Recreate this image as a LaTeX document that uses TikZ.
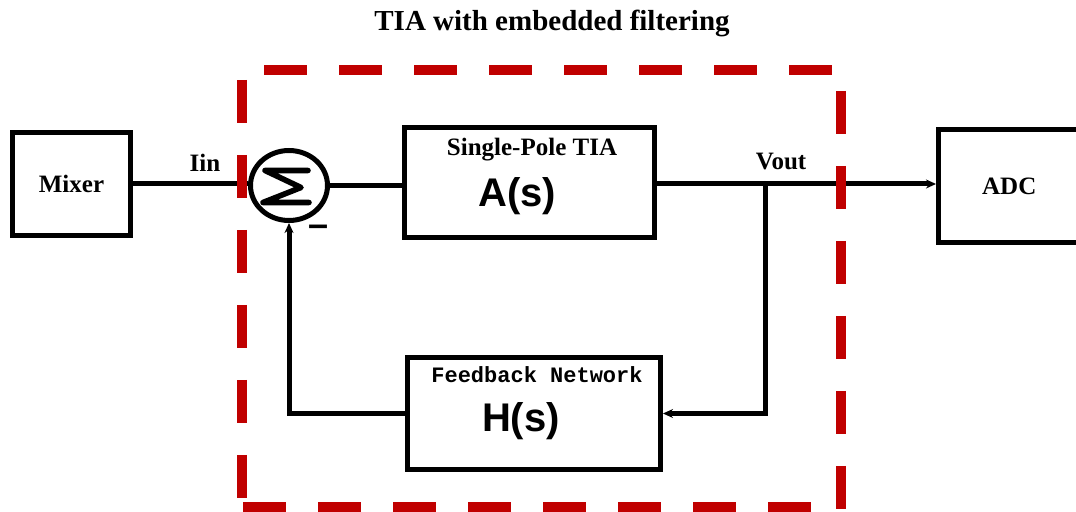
\documentclass[tikz,border=0pt]{standalone}
\usepackage{fontspec}
\setmainfont{Liberation Serif}
\setsansfont{Liberation Sans}
\setmonofont{Liberation Mono}
\usetikzlibrary{arrows.meta, shapes.geometric}
\definecolor{frameRed}{HTML}{C00000}

\begin{document}
\begin{tikzpicture}[x=0.5pt,y=-0.5pt,
  block/.style={draw, line width=2.5pt, inner sep=0pt},
  wire/.style={line width=2.5pt},
  feed/.style={wire, -{Stealth[length=5pt,width=4.5pt]}},
  frame/.style={frameRed, line width=5pt, dash pattern=on 21.5pt off 16pt},
  lbl/.style={font=\fontsize{12.5}{14}\selectfont\bfseries, anchor=base},
  gain/.style={font=\fontsize{20}{23}\selectfont\sffamily\bfseries, anchor=base}]
\useasboundingbox (0,0) rectangle (1076,512);
\coordinate (FrameTL) at (264,70);
\coordinate (FrameTR) at (832,70);
\coordinate (FrameLT) at (242,80);
\coordinate (FrameLB) at (242,498);
\coordinate (FrameRT) at (841,91);
\coordinate (FrameRB) at (841,520);
\coordinate (FrameBL) at (243,507);
\coordinate (FrameBR) at (811,507);
\coordinate (tap) at (765,184);
\node[lbl, font=\fontsize{14.5}{17}\selectfont\bfseries] (title) at (552,31) {TIA with embedded filtering};
% blocks
\node[block, minimum width=59pt, minimum height=51.5pt, font=\fontsize{12.5}{14}\selectfont\bfseries] (mixer) at (71.5,184) {Mixer};
\node[block, draw, ellipse, minimum width=38.5pt, minimum height=35pt] (sum) at (289,185.5) {};
\node[block, minimum width=125pt, minimum height=55pt] (tia) at (529.5,182.5) {};
\node[block, minimum width=126.5pt, minimum height=56pt] (feedback) at (534,413.5) {};
\node[block, minimum width=70.75pt, minimum height=56.5pt, font=\fontsize{12.5}{14}\selectfont\bfseries] (adc) at (1009.25,186) {ADC};
\draw[line width=2.8pt, line cap=round, line join=round] ([shift={(19,-15)}]sum.center) -- ([shift={(-24,-15)}]sum.center)
  -- ([shift={(12,2)}]sum.center) -- ([shift={(-26,17)}]sum.center) -- ([shift={(20,17)}]sum.center);
\node[font=\fontsize{18}{20}\selectfont\sffamily\bfseries] (minus) at (319,231) {--};
\node[lbl] (tiaName) at (532,156) {Single-Pole TIA};
\node[gain] (tiaGain) at (517,207) {A(s)};
\node[lbl, font=\fontsize{11}{13}\selectfont\ttfamily\bfseries] (fbName) at (537,383) {Feedback Network};
\node[gain] (fbGain) at (521,432) {H(s)};
\node[lbl] (iin) at (205,172) {Iin};
\node[lbl] (vout) at (781,170) {Vout};
% signal path
\draw[wire] (mixer.east) -- (mixer.east -| sum.west);
\draw[wire] (sum.east) -- (sum.east -| tia.west);
\draw[feed] (tia.east |- tap) -- (tap -| adc.west);
\fill (tap) circle (1.5pt);
\draw[feed] (tap) |- (feedback.east);
\draw[feed] (feedback.west) -| (sum.south);
% filter boundary
\draw[frame] (FrameTL) -- (FrameTR);
\draw[frame] (FrameLT) -- (FrameLB);
\draw[frame] (FrameRT) -- (FrameRB);
\draw[frame] (FrameBL) -- (FrameBR);
\end{tikzpicture}
\end{document}
